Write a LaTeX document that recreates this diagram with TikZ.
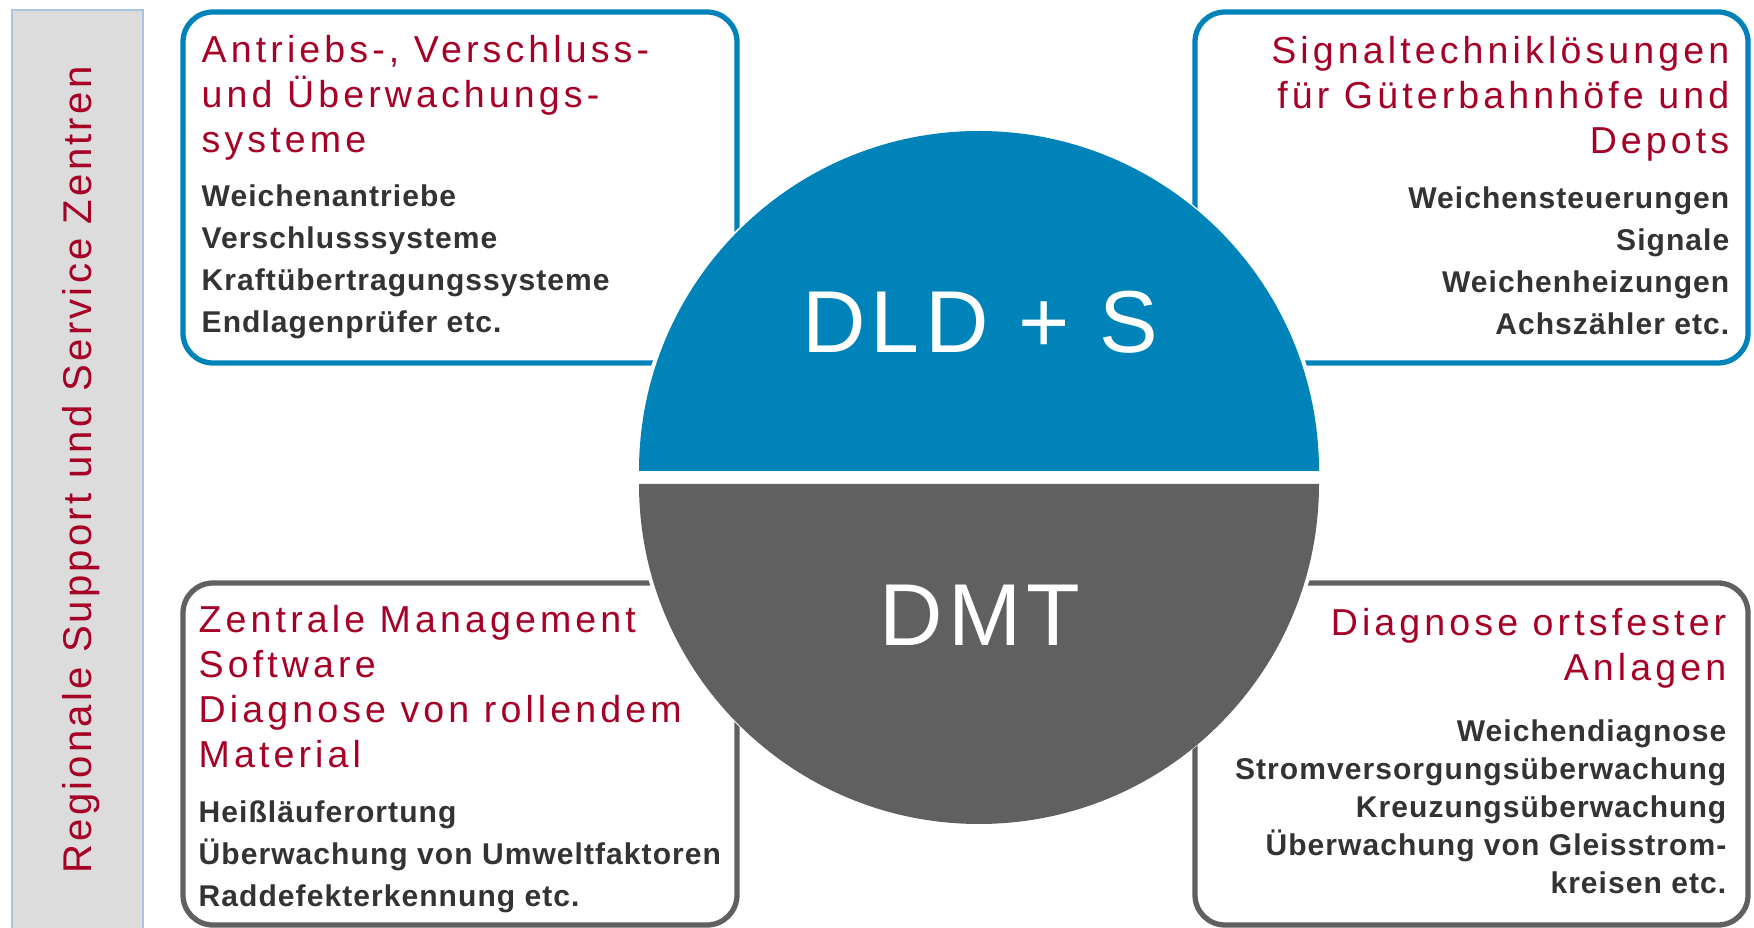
\documentclass[tikz,border=0pt]{standalone}
\usepackage{fontspec}
\setmainfont{Liberation Sans}
\newfontfamily\headfont[LetterSpace=11]{Liberation Sans}
\newfontfamily\itemfont[LetterSpace=3.5]{Liberation Sans}
\newfontfamily\bigfont[LetterSpace=6]{Liberation Sans}
\newfontfamily\sidefont[LetterSpace=8]{Liberation Sans}
\definecolor{dldblue}{RGB}{0,131,184}
\definecolor{dmtgray}{RGB}{96,96,96}
\definecolor{headred}{RGB}{166,0,38}
\definecolor{itemgray}{RGB}{51,51,51}
\definecolor{sidegray}{RGB}{220,220,220}
\definecolor{sideedge}{RGB}{168,196,222}
\tikzset{
	panel/.style={rounded corners=0.3cm, line width=1.5pt},
	heading/.style={text=headred, inner sep=0pt, font=\headfont\fontsize{10.67pt}{12.8pt}\selectfont},
	items/.style={text=itemgray, inner sep=0pt, font=\itemfont\bfseries\fontsize{8.54pt}{11.95pt}\selectfont},
	bigtext/.style={text=white, inner sep=0pt, anchor=base, font=\bigfont\fontsize{25pt}{30pt}\selectfont}
}

\begin{document}
\begin{tikzpicture}[x=0.01cm, y=-0.01cm]
	\useasboundingbox (0,0) rectangle (1754,928);
	% side bar
	\filldraw[fill=sidegray, draw=sideedge, line width=0.6pt] (12,10) rectangle (143,960);
	\node[rotate=90, anchor=base, inner sep=0pt, text=headred, font=\sidefont\fontsize{11.4pt}{13pt}\selectfont] (side) at (91,470) {Regionale Support und Service Zentren};
	% boxes
	\draw[panel, dldblue] (183,12) rectangle (737,363);
	\draw[panel, dldblue] (1195,12) rectangle (1748,363);
	\draw[panel, dmtgray] (183,583) rectangle (737,925);
	\draw[panel, dmtgray] (1195,583) rectangle (1748,925);
	% circle
	\fill[white] (979,477) circle[radius=346];
	\fill[dldblue] (639,471) arc[start angle=180, end angle=360, radius=340] -- cycle;
	\fill[dmtgray] (639,484) arc[start angle=180, end angle=0, radius=340] -- cycle;
	\node[bigtext] (dld) at (980,353) {DLD + S};
	\node[bigtext] (dmt) at (980,646) {DMT};
	% texts (anchored at the last line)
	\node[heading, align=left, anchor=base west] (drives) at (201,153) {Antriebs-, Verschluss-\\und Überwachungs-\\systeme};
	\node[items, align=left, anchor=base west] (drivesitems) at (201,333) {Weichenantriebe\\Verschlusssysteme\\Kraftübertragungssysteme\\Endlagenprüfer etc.};
	\node[heading, align=right, anchor=base east] (signal) at (1730,154) {Signaltechniklösungen\\für Güterbahnhöfe und\\Depots};
	\node[items, align=right, anchor=base east] (signalitems) at (1730,335) {Weichensteuerungen\\Signale\\Weichenheizungen\\Achszähler etc.};
	\node[heading, align=left, anchor=base west] (central) at (198,768) {Zentrale Management\\Software\\Diagnose von rollendem\\Material};
	\node[items, align=left, anchor=base west] (centralitems) at (198,907) {Heißläuferortung\\Überwachung von Umweltfaktoren\\Raddefekterkennung etc.};
	\node[heading, align=right, anchor=base east] (fixed) at (1727,681) {Diagnose ortsfester\\Anlagen};
	\node[items, align=right, anchor=base east, font=\itemfont\bfseries\fontsize{8.54pt}{10.81pt}\selectfont] (fixeditems) at (1727,894) {Weichendiagnose\\Stromversorgungsüberwachung\\Kreuzungsüberwachung\\Überwachung von Gleisstrom-\\kreisen etc.};
\end{tikzpicture}
\end{document}
